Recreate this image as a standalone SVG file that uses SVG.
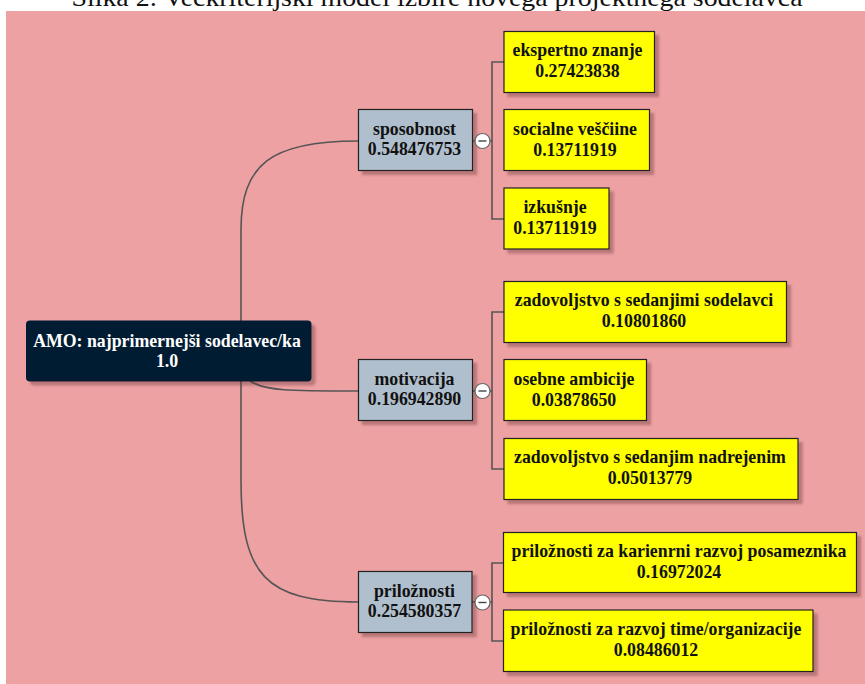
<svg xmlns="http://www.w3.org/2000/svg" width="865" height="684" viewBox="0 0 865 684">
<style>
.t{font-family:"Liberation Serif","Times New Roman",serif;font-weight:bold;font-size:17.8px;text-anchor:middle}
.leaf rect{fill:#ffff00;stroke:#222;stroke-width:1.2}
.mid rect{fill:#b0bfcd;stroke:#222;stroke-width:1.2}
.leaf text,.mid text{fill:#111}
.conn path,.conn line{fill:none;stroke:#555;stroke-width:1.6}
.tog circle{fill:#fff;stroke:#666;stroke-width:1.2}
.tog line{stroke:#444;stroke-width:1.4}
</style>
<defs>
<filter id="sh" x="-10%" y="-10%" width="130%" height="140%">
<feDropShadow dx="4" dy="4" stdDeviation="1.2" flood-color="#5a2a2c" flood-opacity="0.35"/>
</filter>
</defs>
<rect x="0" y="0" width="865" height="684" fill="#ffffff"/>
<text x="437" y="5.5" font-family="'Liberation Serif','Times New Roman',serif" font-size="26" text-anchor="middle" textLength="731" lengthAdjust="spacingAndGlyphs" fill="#111">Slika 2: Večkriterijski model izbire novega projektnega sodelavca</text>
<rect x="6" y="11" width="859" height="673" fill="#eda1a3"/>

<g class="conn" id="connectors">
<path d="M358,141 C270,141 241,165 241,230 L241,480 C241,575 265,602 358,602"/>
<path d="M250,381 C265,391 290,391 358,391"/>
<line x1="473" y1="141" x2="492" y2="141"/>
<path d="M504,62 H492 V219 H504"/>
<line x1="473" y1="391" x2="492" y2="391"/>
<path d="M504,312 H492 V469 H504"/>
<line x1="472" y1="602" x2="492" y2="602"/>
<path d="M504,563 H492 V641 H504"/>
</g>

<g id="root">
<rect x="26" y="320.5" width="285.5" height="61" rx="4" fill="#041a31" filter="url(#sh)"/>
<text class="t" x="167" y="347" fill="#ffffff">AMO: najprimernejši sodelavec/ka</text>
<text class="t" x="167" y="367" fill="#ffffff">1.0</text>
</g>

<g id="sposobnost" class="mid">
<rect x="358.5" y="109.5" width="114" height="61" filter="url(#sh)"/>
<text class="t" x="414.5" y="135">sposobnost</text>
<text class="t" x="414.5" y="155">0.548476753</text>
</g>
<g id="motivacija" class="mid">
<rect x="358.5" y="359.5" width="114" height="61" filter="url(#sh)"/>
<text class="t" x="414.5" y="385">motivacija</text>
<text class="t" x="414.5" y="405">0.196942890</text>
</g>
<g id="priloznosti" class="mid">
<rect x="358.5" y="571.5" width="113.5" height="61" filter="url(#sh)"/>
<text class="t" x="414.5" y="597">priložnosti</text>
<text class="t" x="414.5" y="617">0.254580357</text>
</g>

<g class="tog" id="toggle1"><circle cx="482.5" cy="141" r="7.5"/><line x1="478.5" y1="141" x2="486.5" y2="141"/></g>
<g class="tog" id="toggle2"><circle cx="482.5" cy="391" r="7.5"/><line x1="478.5" y1="391" x2="486.5" y2="391"/></g>
<g class="tog" id="toggle3"><circle cx="482.5" cy="602.5" r="7.5"/><line x1="478.5" y1="602.5" x2="486.5" y2="602.5"/></g>

<g id="ekspertno" class="leaf">
<rect x="504" y="31.5" width="150.5" height="61" filter="url(#sh)"/>
<text class="t" x="577.5" y="56">ekspertno znanje</text>
<text class="t" x="577.5" y="77">0.27423838</text>
</g>
<g id="socialne" class="leaf">
<rect x="504" y="109.5" width="145.5" height="61" filter="url(#sh)"/>
<text class="t" x="575" y="134.5">socialne veščiine</text>
<text class="t" x="575" y="155.5">0.13711919</text>
</g>
<g id="izkusnje" class="leaf">
<rect x="504" y="188" width="105" height="61" filter="url(#sh)"/>
<text class="t" x="555" y="212.5">izkušnje</text>
<text class="t" x="555" y="233.5">0.13711919</text>
</g>
<g id="sodelavci" class="leaf">
<rect x="504" y="281.5" width="282.5" height="61" filter="url(#sh)"/>
<text class="t" x="644" y="306">zadovoljstvo s sedanjimi sodelavci</text>
<text class="t" x="644" y="327">0.10801860</text>
</g>
<g id="ambicije" class="leaf">
<rect x="504" y="359.5" width="142.5" height="61" filter="url(#sh)"/>
<text class="t" x="574" y="384.5">osebne ambicije</text>
<text class="t" x="574" y="405.5">0.03878650</text>
</g>
<g id="nadrejenim" class="leaf">
<rect x="504" y="438.5" width="294" height="61" filter="url(#sh)"/>
<text class="t" x="650" y="463">zadovoljstvo s sedanjim nadrejenim</text>
<text class="t" x="650" y="484">0.05013779</text>
</g>
<g id="karierni" class="leaf">
<rect x="503.5" y="532.5" width="353" height="60" filter="url(#sh)"/>
<text class="t" x="679" y="556.5">priložnosti za karienrni razvoj posameznika</text>
<text class="t" x="679" y="577.5">0.16972024</text>
</g>
<g id="time" class="leaf">
<rect x="503.5" y="610" width="309.5" height="61.5" filter="url(#sh)"/>
<text class="t" x="656" y="635">priložnosti za razvoj time/organizacije</text>
<text class="t" x="656" y="656">0.08486012</text>
</g>
</svg>
